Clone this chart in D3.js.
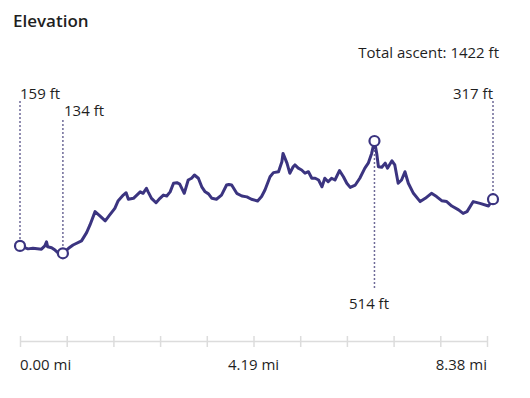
<!DOCTYPE html>
<html>
<head>
<meta charset="utf-8">
<script src="https://cdn.jsdelivr.net/npm/d3@7.9.0/dist/d3.min.js"></script>
<style>
  body { margin: 0; background: #fff; font-family: "Open Sans", "Noto Sans", sans-serif; }
  svg text { fill: #1f1f1f; }
</style>
</head>
<body>
<svg id="chart" width="530" height="398"></svg>
<script>
// distance along the trail (mi) and elevation (ft)
const distance = [0, 0.14, 0.23, 0.38, 0.44, 0.47, 0.49, 0.56, 0.62, 0.68, 0.76, 0.86, 0.94, 1.09, 1.18, 1.24,
  1.33, 1.42, 1.51, 1.59, 1.68, 1.74, 1.83, 1.88, 1.92, 2.01, 2.07, 2.13, 2.18, 2.24, 2.27, 2.33, 2.41, 2.48,
  2.54, 2.60, 2.66, 2.72, 2.78, 2.83, 2.91, 2.98, 3.04, 3.09, 3.16, 3.22, 3.28, 3.34, 3.40, 3.48, 3.57, 3.66,
  3.70, 3.75, 3.84, 3.93, 4.02, 4.10, 4.21, 4.28, 4.34, 4.43, 4.49, 4.58, 4.64, 4.66, 4.73, 4.78, 4.84, 4.87,
  4.93, 4.99, 5.05, 5.11, 5.17, 5.23, 5.29, 5.35, 5.40, 5.46, 5.52, 5.58, 5.66, 5.73, 5.79, 5.85, 5.94, 6.02,
  6.11, 6.17, 6.23, 6.28, 6.32, 6.35, 6.41, 6.47, 6.51, 6.59, 6.64, 6.70, 6.76, 6.82, 6.88, 6.97, 7.09, 7.18,
  7.29, 7.38, 7.47, 7.56, 7.65, 7.77, 7.85, 7.92, 8.03, 8.15, 8.30, 8.38];
const elevation = [159, 149, 151, 148, 159, 173, 156, 153, 145, 135, 134, 151, 162, 176, 204, 230,
  275, 260, 244, 264, 286, 312, 331, 339, 317, 320, 331, 342, 337, 354, 342, 320, 305, 320,
  331, 328, 342, 371, 373, 368, 337, 382, 388, 399, 388, 359, 342, 335, 320, 317, 331, 365,
  367, 365, 337, 328, 325, 317, 311, 326, 348, 393, 407, 410, 444, 472, 439, 405, 427, 433,
  422, 416, 405, 410, 388, 388, 382, 359, 388, 376, 388, 382, 414, 393, 371, 357, 365, 388,
  422, 439, 472, 514, 472, 427, 425, 439, 422, 447, 433, 371, 382, 410, 371, 337, 309, 320,
  337, 326, 312, 309, 294, 281, 269, 275, 309, 303, 294, 317];

// highlighted points: start, lowest, highest, end
const markerDist = [0, 0.76, 6.28, 8.38];
const markerElev = [159, 134, 514, 317];
const markerLabels = ["159 ft", "134 ft", "514 ft", "317 ft"];

const totalMiles = 8.38;
const tickLabels = ["0.00 mi", "4.19 mi", "8.38 mi"];
const tickLabelValues = [0, 4.19, 8.38];
const title = "Elevation";
const ascentText = "Total ascent: 1422 ft";

const data = distance.map((d, i) => ({ d: d, e: elevation[i] }));
const markers = markerDist.map((d, i) => ({ d: d, e: markerElev[i], label: markerLabels[i] }));

const svg = d3.select('#chart');
const purple = '#3b3480';
const dotColor = '#6e6a98';

const x = d3.scaleLinear().domain([0, totalMiles]).range([20, 493]);
const xAxisScale = d3.scaleLinear().domain([0, totalMiles]).range([20, 487]);
const y = d3.scaleLinear().domain([134, 514]).range([253.3, 141]);

// header
svg.append('text')
  .attr('x', 13).attr('y', 27)
  .attr('font-size', 17).attr('font-weight', 600)
  .text(title);

svg.append('text')
  .attr('x', 499).attr('y', 58)
  .attr('text-anchor', 'end')
  .attr('font-size', 15)
  .text(ascentText);

// x axis
let axis = d3.axisBottom(xAxisScale)
  .tickValues(d3.range(11).map(i => i * totalMiles / 10))
  .tickFormat('')
  .tickSizeOuter(0);
let axisG = svg.append('g')
  .attr('transform', 'translate(0,341)')
  .call(axis);
axisG.select('.domain').attr('stroke', '#dcdcdc').attr('stroke-width', 1.5);
axisG.selectAll('.tick line')
  .attr('stroke', '#dcdcdc').attr('stroke-width', 1.5)
  .attr('y1', -5).attr('y2', 6);

svg.selectAll('.tick-label')
  .data(tickLabelValues)
  .join('text')
  .attr('class', 'tick-label')
  .attr('x', d => xAxisScale(d))
  .attr('y', 370)
  .attr('font-size', 15)
  .attr('text-anchor', (d, i) => i === 0 ? 'start' : (i === tickLabelValues.length - 1 ? 'end' : 'middle'))
  .text((d, i) => tickLabels[i]);

// dotted leader lines
const labelY = [99, 116, 309, 99];
const leadStart = [101, 120, 146, 101];
const leadEnd = [241, 248, 288, 194];
markers.forEach((m, i) => {
  svg.append('line')
    .attr('x1', x(m.d)).attr('x2', x(m.d))
    .attr('y1', leadStart[i]).attr('y2', i === 2 ? leadEnd[i] : y(m.e) - 5)
    .attr('stroke', dotColor)
    .attr('stroke-width', 1.5)
    .attr('stroke-dasharray', '2,2');
});

// profile line
svg.append('path')
  .datum(data)
  .attr('fill', 'none')
  .attr('stroke', purple)
  .attr('stroke-width', 3)
  .attr('stroke-linejoin', 'round')
  .attr('d', d3.line().x(d => x(d.d)).y(d => y(d.e)));

// circles
svg.selectAll('.marker')
  .data(markers)
  .join('circle')
  .attr('class', 'marker')
  .attr('cx', d => x(d.d))
  .attr('cy', d => y(d.e))
  .attr('r', 5)
  .attr('fill', '#fff')
  .attr('stroke', purple)
  .attr('stroke-width', 2.2);

// labels
const labelX = [20, 64, 369, 493];
const labelAnchor = ['start', 'start', 'middle', 'end'];
markers.forEach((m, i) => {
  svg.append('text')
    .attr('x', labelX[i]).attr('y', labelY[i])
    .attr('text-anchor', labelAnchor[i])
    .attr('font-size', 15)
    .text(m.label);
});
</script>
</body>
</html>
